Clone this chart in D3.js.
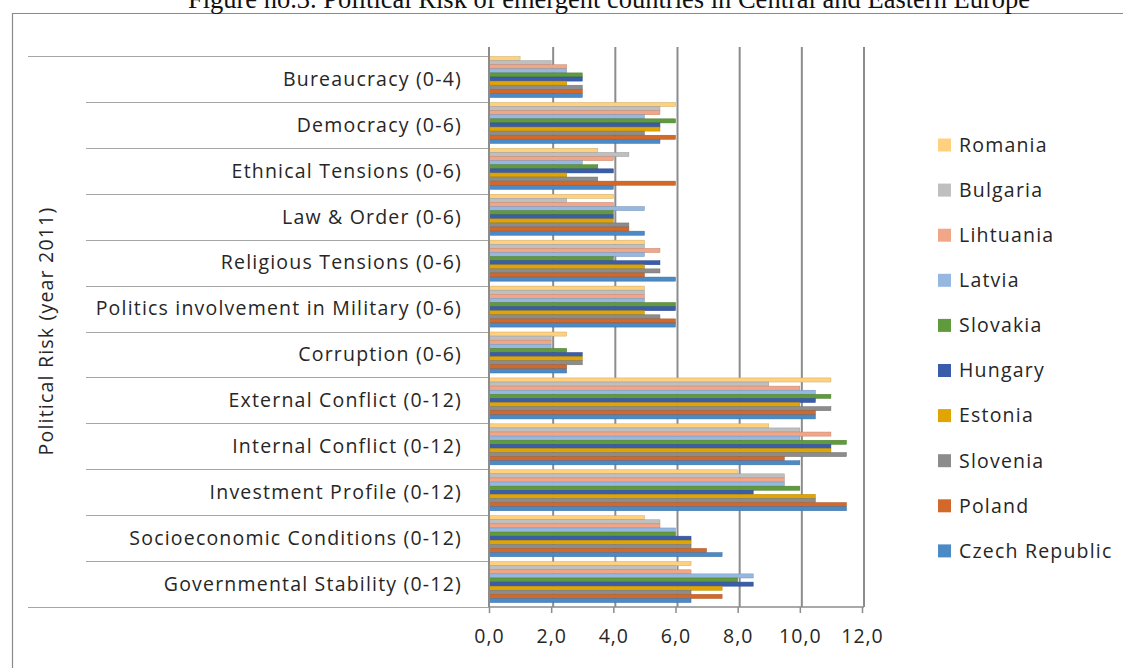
<!DOCTYPE html>
<html>
<head>
<meta charset="utf-8">
<script src="https://cdn.jsdelivr.net/npm/d3@7"></script>
<style>
  body { margin: 0; background: #fff; }
  svg text { font-family: "Open Sans", Lato, sans-serif; fill: #262626; }
</style>
</head>
<body>
<div id="chart"></div>
<script>
/* Data */
const categories = [
  'Bureaucracy (0-4)',
  'Democracy (0-6)',
  'Ethnical Tensions (0-6)',
  'Law & Order  (0-6)',
  'Religious Tensions (0-6)',
  'Politics involvement in Military (0-6)',
  'Corruption (0-6)',
  'External Conflict (0-12)',
  'Internal Conflict (0-12)',
  'Investment Profile (0-12)',
  'Socioeconomic Conditions (0-12)',
  'Governmental Stability (0-12)'
];

const countries = ['Romania', 'Bulgaria', 'Lihtuania', 'Latvia', 'Slovakia',
  'Hungary', 'Estonia', 'Slovenia', 'Poland', 'Czech Republic'];

const countryColors = ['#FFD17F', '#BFBFBF', '#F2A688', '#95B7E0', '#5F9B3D',
  '#3A5DAB', '#E0A500', '#8C8C8C', '#D2692A', '#4C8AC6'];

// values per country, in the order of categories
const romania   = [1.0, 6.0, 3.5, 4.0, 5.0, 5.0, 2.5, 11.0, 9.0, 8.0, 5.0, 6.5];
const bulgaria  = [2.0, 5.5, 4.5, 2.5, 5.0, 5.0, 2.0, 9.0, 10.0, 9.5, 5.5, 6.0];
const lihtuania = [2.5, 5.5, 4.0, 4.0, 5.5, 5.0, 2.0, 10.0, 11.0, 9.5, 5.5, 6.5];
const latvia    = [2.5, 5.0, 3.0, 5.0, 5.0, 5.0, 2.0, 10.5, 10.0, 9.5, 6.0, 8.5];
const slovakia  = [3.0, 6.0, 3.5, 4.0, 4.0, 6.0, 2.5, 11.0, 11.5, 10.0, 6.0, 8.0];
const hungary   = [3.0, 5.5, 4.0, 4.0, 5.5, 6.0, 3.0, 10.5, 11.0, 8.5, 6.5, 8.5];
const estonia   = [2.5, 5.5, 2.5, 4.0, 5.0, 5.0, 3.0, 10.0, 11.0, 10.5, 6.5, 7.5];
const slovenia  = [3.0, 5.0, 3.5, 4.5, 5.5, 5.5, 3.0, 11.0, 11.5, 10.5, 6.5, 6.5];
const poland    = [3.0, 6.0, 6.0, 4.5, 5.0, 6.0, 2.5, 10.5, 9.5, 11.5, 7.0, 7.5];
const czech     = [3.0, 5.5, 4.0, 5.0, 6.0, 6.0, 2.5, 10.5, 10.0, 11.5, 7.5, 6.5];

const seriesValues = [romania, bulgaria, lihtuania, latvia, slovakia,
  hungary, estonia, slovenia, poland, czech];

const xTicks = [0, 2, 4, 6, 8, 10, 12];

/* Dimensions */
let width = 1123, height = 668;
let plotLeft = 489, plotRight = 862;
let plotTop = 56, plotBottom = 607;

let svg = d3.select('#chart')
  .append('svg')
  .attr('width', width)
  .attr('height', height);

// frame
svg.append('path')
  .attr('d', 'M12.5,668 V13.5 H1123')
  .attr('fill', 'none')
  .attr('stroke', '#8a8a8a')
  .attr('stroke-width', 1.2);

// title (cut off at top of the picture)
svg.append('text')
  .attr('x', 609)
  .attr('y', 8)
  .attr('text-anchor', 'middle')
  .style('font-family', '"Liberation Serif", "Times New Roman", serif')
  .style('font-size', '26.5px')
  .style('fill', '#111')
  .text('Figure no.3. Political Risk of emergent countries in Central and Eastern Europe');

let x = d3.scaleLinear()
  .domain([0, 12])
  .range([plotLeft, plotRight]);

let y = d3.scaleBand()
  .domain(categories)
  .range([plotTop, plotBottom]);

let yInner = d3.scaleBand()
  .domain(countries)
  .range([0.5, 41.5])
  .paddingInner(0);

let color = d3.scaleOrdinal()
  .domain(countries)
  .range(countryColors);

// gridlines
svg.append('g')
  .selectAll('line')
  .data(xTicks.slice(1))
  .enter().append('line')
  .attr('x1', d => x(d) + 2)
  .attr('x2', d => x(d) + 2)
  .attr('y1', 47)
  .attr('y2', plotBottom)
  .attr('stroke', '#8c8c8c')
  .attr('stroke-width', 2);

// category separators
let separators = d3.range(categories.length + 1).map(i => i === categories.length ? plotBottom : y(categories[i]));
svg.append('g')
  .selectAll('line')
  .data(separators)
  .enter().append('line')
  .attr('x1', (d, i) => (i === 0 || i === categories.length) ? 28 : 86)
  .attr('x2', plotLeft)
  .attr('y1', d => Math.round(d) + 0.5)
  .attr('y2', d => Math.round(d) + 0.5)
  .attr('stroke', '#a6a6a6')
  .attr('stroke-width', 1.2);

// bars
let groups = svg.append('g')
  .selectAll('g')
  .data(categories)
  .enter().append('g')
  .attr('transform', d => 'translate(0,' + y(d) + ')');

groups.selectAll('rect')
  .data((c, ci) => countries.map((name, si) => ({ name: name, value: seriesValues[si][ci] })))
  .enter().append('rect')
  .attr('x', plotLeft)
  .attr('y', d => yInner(d.name))
  .attr('width', d => x(d.value) - plotLeft)
  .attr('height', yInner.bandwidth())
  .attr('fill', d => color(d.name))
  .attr('stroke', d => d3.color(color(d.name)).darker(0.6))
  .attr('stroke-width', 0.5);

// axis lines
svg.append('line')
  .attr('x1', plotLeft).attr('x2', plotLeft)
  .attr('y1', 47).attr('y2', plotBottom)
  .attr('stroke', '#8c8c8c')
  .attr('stroke-width', 2);

svg.append('line')
  .attr('x1', plotLeft).attr('x2', plotRight + 2)
  .attr('y1', plotBottom).attr('y2', plotBottom)
  .attr('stroke', '#8c8c8c')
  .attr('stroke-width', 1.5);

// x axis
let xAxis = svg.append('g')
  .attr('transform', 'translate(0,' + plotBottom + ')')
  .call(d3.axisBottom(x)
    .tickValues(xTicks)
    .tickSize(6)
    .tickFormat(d => d3.format('.1f')(d).replace('.', ',')));

xAxis.select('.domain').remove();
xAxis.selectAll('line').attr('stroke', '#8c8c8c').attr('stroke-width', 1.5);
xAxis.selectAll('text')
  .attr('y', 22)
  .attr('dy', '0.71em')
  .style('font-family', '"Open Sans", Lato, sans-serif')
  .style('font-size', '19.5px')
  .style('letter-spacing', '1px')
  .style('fill', '#262626');

// category labels
svg.append('g')
  .selectAll('text')
  .data(categories)
  .enter().append('text')
  .attr('x', 462)
  .attr('y', d => y(d) + y.bandwidth() / 2)
  .attr('dy', '0.35em')
  .attr('text-anchor', 'end')
  .style('font-size', '19.5px')
  .style('letter-spacing', '1.2px')
  .text(d => d);

// axis title
svg.append('text')
  .attr('transform', 'translate(53,331) rotate(-90)')
  .attr('text-anchor', 'middle')
  .style('font-size', '19.5px')
  .style('letter-spacing', '1.2px')
  .text('Political Risk (year 2011)');

// legend
let legend = svg.append('g')
  .selectAll('g')
  .data(countries)
  .enter().append('g')
  .attr('transform', (d, i) => 'translate(938,' + (145 + i * 45.1) + ')');

legend.append('rect')
  .attr('x', 0)
  .attr('y', -6.5)
  .attr('width', 13)
  .attr('height', 13)
  .attr('fill', d => color(d));

legend.append('text')
  .attr('x', 21)
  .attr('dy', '0.35em')
  .style('font-size', '19.5px')
  .style('letter-spacing', '1.2px')
  .text(d => d);
</script>
</body>
</html>
